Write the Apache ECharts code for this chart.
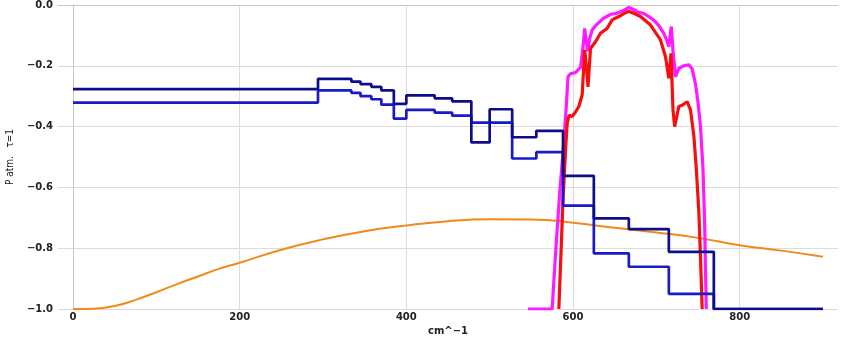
<!DOCTYPE html>
<html>
<head>
<meta charset="utf-8">
<script src="https://cdn.jsdelivr.net/npm/echarts@6/dist/echarts.min.js"></script>
<style>
html,body{margin:0;padding:0;background:#fff;}
#chart{width:850px;height:337px;}
</style>
</head>
<body>
<div id="chart"></div>
<script>
// ---- data ----
const xTicks = [0, 200, 400, 600, 800];
const yTicks = [-1.0, -0.8, -0.6, -0.4, -0.2, 0.0];

// step boundaries (cm^-1) shared by the two staircase series
const stepEdges = [0, 294, 334, 345, 358, 370, 385, 400, 434, 455, 478, 500, 527, 556, 588, 625, 667, 715, 769, 900];
// value of each interval between consecutive edges
const stepUpper = [-0.277, -0.243, -0.252, -0.260, -0.269, -0.281, -0.325, -0.297, -0.307, -0.317, -0.452, -0.343, -0.435, -0.414, -0.562, -0.702, -0.737, -0.812, -1.0];
const stepLower = [-0.321, -0.281, -0.289, -0.300, -0.310, -0.328, -0.374, -0.345, -0.354, -0.364, -0.387, -0.387, -0.505, -0.484, -0.660, -0.817, -0.861, -0.950, -1.0];

// magenta curve
const magentaX = [546, 575, 579, 584, 589, 592, 594, 597, 603, 609, 612, 614, 616, 617.5, 620, 623, 627, 631, 636, 641, 646, 651, 657, 662, 667, 672, 677, 685, 692, 697, 703, 709, 713, 715, 717, 718, 720, 723, 727, 733, 739, 743, 747, 750, 753, 756, 758, 759, 760];
const magentaY = [-1.0, -1.0, -0.82, -0.62, -0.45, -0.33, -0.236, -0.226, -0.222, -0.205, -0.14, -0.077, -0.12, -0.152, -0.11, -0.082, -0.068, -0.058, -0.045, -0.037, -0.030, -0.028, -0.022, -0.016, -0.008, -0.014, -0.022, -0.028, -0.040, -0.050, -0.068, -0.093, -0.120, -0.137, -0.090, -0.071, -0.150, -0.236, -0.208, -0.200, -0.197, -0.210, -0.260, -0.320, -0.400, -0.540, -0.720, -0.870, -1.0];

// red curve
const redX = [583, 585, 588, 591, 593, 595.5, 599, 603, 607, 611, 613, 614, 616, 618, 621, 627, 633, 641, 647, 655, 661, 667, 673, 681, 693, 705, 711, 715, 717.6, 720, 722, 727, 731, 737, 741, 745, 748, 751, 753, 755];
const redY = [-1.0, -0.86, -0.64, -0.48, -0.39, -0.362, -0.367, -0.352, -0.334, -0.296, -0.197, -0.148, -0.200, -0.269, -0.143, -0.121, -0.093, -0.077, -0.049, -0.038, -0.028, -0.021, -0.027, -0.038, -0.066, -0.115, -0.170, -0.241, -0.159, -0.345, -0.400, -0.334, -0.330, -0.318, -0.345, -0.430, -0.540, -0.680, -0.830, -1.0];

// orange curve
const orangeX = [0, 25, 50, 75, 100, 125, 150, 175, 200, 250, 300, 350, 400, 450, 500, 550, 600, 650, 700, 750, 800, 850, 900];
const orangeY = [-1.000, -0.999, -0.990, -0.970, -0.945, -0.918, -0.893, -0.868, -0.848, -0.805, -0.771, -0.744, -0.725, -0.711, -0.705, -0.706, -0.716, -0.733, -0.748, -0.766, -0.790, -0.808, -0.828];

// ---- build ----
function stepData(edges, vals) {
  const d = [];
  for (let i = 0; i < vals.length; i++) d.push([edges[i], vals[i]]);
  d.push([edges[edges.length - 1], vals[vals.length - 1]]);
  return d;
}
function zip(xs, ys) { return xs.map((x, i) => [x, ys[i]]); }
function fmt(v) { return v.toFixed(1).replace('-', '\u2212'); }

const chart = echarts.init(document.getElementById('chart'), null, {renderer: 'canvas'});
const labelStyle = {fontFamily: 'DejaVu Sans', fontWeight: 'bold', fontSize: 10, color: '#222'};
chart.setOption({
  animation: false,
  backgroundColor: '#fff',
  grid: {left: 58, right: 12, top: 5, bottom: 28, containLabel: false, outerBoundsMode: 'none'},
  xAxis: {
    type: 'value', min: -18, max: 918,
    name: 'cm^\u22121', nameLocation: 'middle', nameGap: 14,
    nameTextStyle: {fontFamily: 'DejaVu Sans', fontWeight: 'bold', fontSize: 10, color: '#222'},
    axisLine: {show: true, lineStyle: {color: '#c8c8c8', width: 1}},
    axisTick: {show: false, customValues: xTicks},
    axisLabel: Object.assign({customValues: xTicks, margin: 3, formatter: v => String(v)}, labelStyle),
    splitLine: {show: true, lineStyle: {color: '#dcdcdc', width: 1}}
  },
  yAxis: {
    type: 'value', min: -1, max: 0, interval: 0.2,
    name: 'P atm.   \u03c4=1', nameLocation: 'middle', nameGap: 43, nameRotate: 90,
    nameTextStyle: {fontFamily: "'DejaVu Sans Condensed', 'Liberation Sans', sans-serif", fontSize: 10, color: '#222'},
    axisLine: {show: true, lineStyle: {color: '#c8c8c8', width: 1}},
    axisTick: {show: false},
    axisLabel: Object.assign({margin: 5, formatter: fmt}, labelStyle),
    splitLine: {show: true, lineStyle: {color: '#dcdcdc', width: 1}}
  },
  series: [
    {type: 'line', data: zip(orangeX, orangeY), smooth: true, showSymbol: false, lineStyle: {color: '#f08a1c', width: 2}, z: 2},
    {type: 'line', data: zip(magentaX, magentaY), showSymbol: false, lineStyle: {color: '#ff1aff', width: 3.2}, z: 3},
    {type: 'line', data: zip(redX, redY), showSymbol: false, lineStyle: {color: '#f50f0f', width: 3.2}, z: 4},
    {type: 'line', data: stepData(stepEdges, stepLower), step: 'end', showSymbol: false, lineStyle: {color: '#1a1ac8', width: 2.7}, z: 5},
    {type: 'line', data: stepData(stepEdges, stepUpper), step: 'end', showSymbol: false, lineStyle: {color: '#0e0e8a', width: 2.7}, z: 6}
  ]
});
</script>
</body>
</html>
